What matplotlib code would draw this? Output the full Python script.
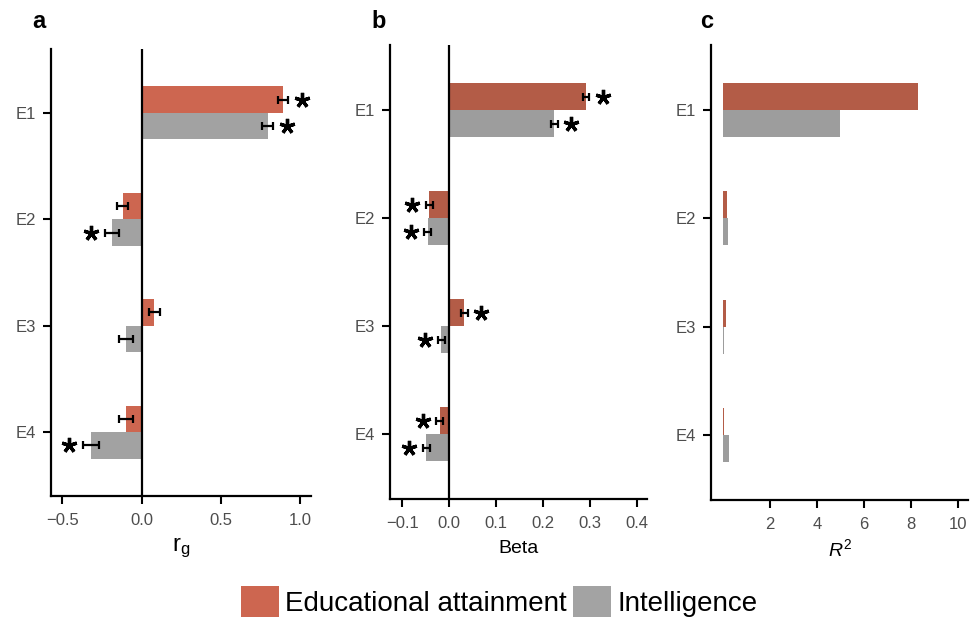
import matplotlib
matplotlib.use("Agg")
import matplotlib.pyplot as plt
import matplotlib.transforms as mtransforms
from matplotlib.patches import Patch
import numpy as np

plt.rcParams['font.family'] = ['Liberation Sans', 'DejaVu Sans']
plt.rcParams['mathtext.fontset'] = 'custom'
plt.rcParams['mathtext.rm'] = 'Liberation Sans'
plt.rcParams['mathtext.it'] = 'Liberation Sans:italic'

# ---------------- data ----------------
categories = ["E1", "E2", "E3", "E4"]
series = ["Educational attainment", "Intelligence"]

# panel a: genetic correlation r_g
rg_edu = [0.892, -0.120, 0.079, -0.099]
rg_edu_err = [0.032, 0.036, 0.035, 0.045]
rg_int = [0.794, -0.189, -0.099, -0.319]
rg_int_err = [0.035, 0.043, 0.045, 0.053]
rg_edu_sig = [True, False, False, False]
rg_int_sig = [True, True, False, True]

# panel b: Beta
beta_edu = [0.292, -0.042, 0.0326, -0.0198]
beta_edu_err = [0.007, 0.0075, 0.0075, 0.0075]
beta_int = [0.2245, -0.0454, -0.0164, -0.0484]
beta_int_err = [0.007, 0.007, 0.007, 0.0075]
beta_edu_sig = [True, True, True, True]
beta_int_sig = [True, True, True, True]

# panel c: R^2
r2_edu = [8.31, 0.18, 0.11, 0.04]
r2_int = [4.97, 0.20, 0.03, 0.25]

# ---------------- style ----------------
RED_A = "#cd6650"
RED_B = "#b35c47"
GRAY_A = "#a2a2a2"
GRAY_B = "#9d9d9d"
TICK_COL = "#4d4d4d"

fig = plt.figure(figsize=(9.73, 6.18), dpi=100)

ax_a = fig.add_axes([0.0524, 0.1974, 0.2672, 0.7233])
ax_b = fig.add_axes([0.4008, 0.1926, 0.2645, 0.7341])
ax_c = fig.add_axes([0.7307, 0.1909, 0.2645, 0.7363])

ypos = np.arange(len(categories))[::-1] + 1.0  # E1 at top
h = 0.25


def style_axis(ax):
    for s in ["top", "right"]:
        ax.spines[s].set_visible(False)
    for s in ["left", "bottom"]:
        ax.spines[s].set_linewidth(1.6)
        ax.spines[s].set_color("black")
    ax.tick_params(axis="both", length=6, width=1.5, color="black",
                   labelcolor=TICK_COL, labelsize=12)
    ax.tick_params(axis="y", pad=5)
    ax.tick_params(axis="x", pad=6)
    ax.set_yticks(ypos)
    ax.set_yticklabels(categories)
    ax.set_ylim(0.4, 4.6)


def draw_panel(ax, edu, edu_err, inte, inte_err, edu_sig, int_sig, red, gray):
    ax.barh(ypos + h / 2, edu, height=h, color=red, zorder=2)
    ax.barh(ypos - h / 2, inte, height=h, color=gray, zorder=2)
    ax.errorbar(edu, ypos + h / 2, xerr=edu_err, fmt="none", ecolor="black",
                elinewidth=1.6, capsize=2.6, capthick=1.6, zorder=3)
    ax.errorbar(inte, ypos - h / 2, xerr=inte_err, fmt="none", ecolor="black",
                elinewidth=1.6, capsize=2.6, capthick=1.6, zorder=3)
    ax.axvline(0, color="black", lw=1.6, zorder=4)
    for vals, errs, sigs, off in ((edu, edu_err, edu_sig, h / 2),
                                  (inte, inte_err, int_sig, -h / 2)):
        for v, e, s, y in zip(vals, errs, sigs, ypos):
            if not s:
                continue
            sign = 1 if v >= 0 else -1
            end = v + sign * e
            tr = ax.transData + mtransforms.ScaledTranslation(
                sign * 0.135, 0, fig.dpi_scale_trans)
            ax.plot([end], [y + off], transform=tr, marker=(5, 2, 0),
                    ms=11, mew=2.4, color="black", zorder=5, clip_on=False)


# panel a
draw_panel(ax_a, rg_edu, rg_edu_err, rg_int, rg_int_err, rg_edu_sig,
           rg_int_sig, RED_A, GRAY_A)
style_axis(ax_a)
ax_a.set_xlim(-0.5715, 1.0668)
ax_a.set_xticks([-0.5, 0.0, 0.5, 1.0])
ax_a.set_xticklabels(["\u22120.5", "0.0", "0.5", "1.0"])
ax_a.set_xlabel(r"r$_\mathregular{g}$", fontsize=17, labelpad=6)

# panel b
draw_panel(ax_b, beta_edu, beta_edu_err, beta_int, beta_int_err,
           beta_edu_sig, beta_int_sig, RED_B, GRAY_B)
style_axis(ax_b)
ax_b.set_xlim(-0.1258, 0.4228)
ax_b.set_xticks([-0.1, 0.0, 0.1, 0.2, 0.3, 0.4])
ax_b.set_xticklabels(["\u22120.1", "0.0", "0.1", "0.2", "0.3", "0.4"])
ax_b.set_xlabel("Beta", fontsize=14, labelpad=7)

# panel c
ax_c.barh(ypos + h / 2, r2_edu, height=h, color=RED_B, zorder=2)
ax_c.barh(ypos - h / 2, r2_int, height=h, color=GRAY_B, zorder=2)
style_axis(ax_c)
ax_c.set_xlim(-0.51, 10.44)
ax_c.set_xticks([2, 4, 6, 8, 10])
ax_c.set_xlabel(r"$\mathit{R}^{\mathit{2}}$", fontsize=14, labelpad=5)

# panel letters
fig.text(39 / 973, 1 - 21 / 618, "a", fontsize=17, fontweight="bold",
         ha="center", va="center")
fig.text(379 / 973, 1 - 22 / 618, "b", fontsize=17, fontweight="bold",
         ha="center", va="center")
fig.text(707 / 973, 1 - 22 / 618, "c", fontsize=17, fontweight="bold",
         ha="center", va="center")

# legend
handles = [Patch(facecolor=RED_A, edgecolor="none"),
           Patch(facecolor="#a3a3a3", edgecolor="none")]
fig.legend(handles, series, loc="center", bbox_to_anchor=(0.513, 0.027),
           ncol=2, frameon=False, fontsize=20, handlelength=1.37,
           handleheight=1.37, handletextpad=0.22, columnspacing=0.23,
           borderpad=0, borderaxespad=0)

fig.savefig("out.png", dpi=100)
